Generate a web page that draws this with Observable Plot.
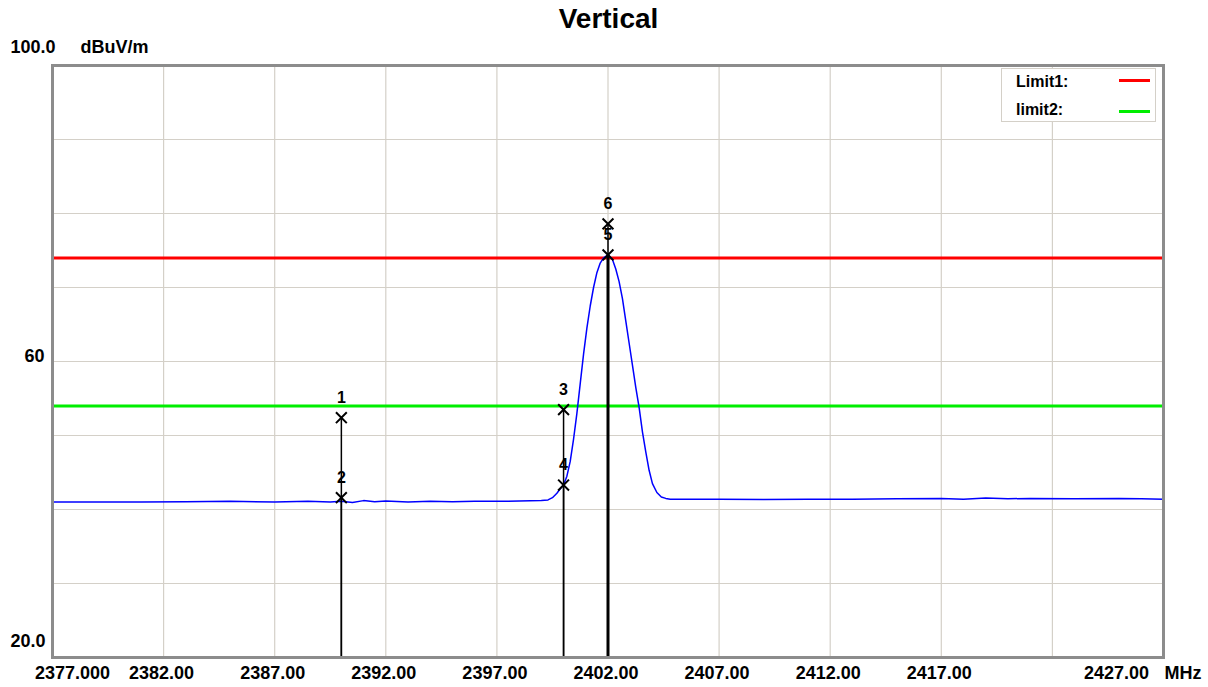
<!DOCTYPE html>
<html>
<head>
<meta charset="utf-8">
<script src="https://cdn.jsdelivr.net/npm/d3@7"></script>
<script src="https://cdn.jsdelivr.net/npm/@observablehq/plot@0.6"></script>
<style>
  html, body { margin: 0; padding: 0; background: #fff; }
  #wrap { position: relative; width: 1208px; height: 687px; font-family: "Liberation Sans", Arial, sans-serif; }
  #title { height: 38px; line-height: 37px; text-align: center; font-weight: bold; font-size: 28px; padding-left: 9px; overflow: hidden; }
  #legend { position: absolute; left: 1001px; top: 68px; width: 155px; height: 54px; border: 1px solid #d4d0c8; background: #fff; box-sizing: border-box; font-weight: bold; font-size: 16px; }
  .lrow { position: absolute; left: 14px; }
  .lline { position: absolute; left: 117px; width: 31px; height: 3px; }
</style>
</head>
<body>
<div id="wrap">
  <div id="title">Vertical</div>
  <div id="chart"></div>
  <div id="legend"></div>
</div>
<script>
// Spectrum trace (MHz, dBuV/m)
const freqs = [2377.0, 2379.0, 2381.0, 2383.0, 2385.0, 2387.0, 2388.5, 2389.5, 2390.0, 2390.5, 2391.0, 2391.5, 2392.0, 2393.0, 2394.0, 2395.0, 2396.0, 2397.0, 2398.0, 2399.0, 2399.3, 2399.5, 2399.7, 2399.85, 2400.0, 2400.15, 2400.3, 2400.45, 2400.6, 2400.75, 2400.9, 2401.05, 2401.2, 2401.35, 2401.5, 2401.65, 2401.8, 2401.95, 2402.05, 2402.2, 2402.35, 2402.5, 2402.65, 2402.8, 2402.95, 2403.1, 2403.25, 2403.4, 2403.55, 2403.7, 2403.85, 2404.0, 2404.2, 2404.4, 2404.6, 2404.8, 2405.5, 2407.0, 2409.0, 2411.0, 2413.0, 2415.0, 2417.0, 2418.0, 2419.0, 2420.0, 2421.0, 2423.0, 2425.0, 2426.0, 2427.0];
const levels = [41.0, 41.0, 41.0, 41.05, 41.1, 41.0, 41.1, 41.0, 41.1, 40.95, 41.2, 41.05, 41.15, 41.0, 41.1, 41.05, 41.1, 41.1, 41.15, 41.2, 41.3, 41.6, 42.2, 42.8, 43.3, 44.5, 46.5, 49.5, 53.0, 57.0, 61.0, 64.5, 67.5, 70.0, 72.0, 73.3, 74.0, 74.3, 74.3, 73.8, 72.5, 70.8, 68.5, 65.5, 62.5, 59.5, 56.5, 53.8, 50.5, 47.8, 45.3, 43.5, 42.3, 41.7, 41.5, 41.4, 41.4, 41.4, 41.35, 41.4, 41.4, 41.45, 41.5, 41.4, 41.55, 41.45, 41.5, 41.45, 41.5, 41.45, 41.4];

// Markers
const markerNo = [1, 2, 3, 4, 5, 6];
const markerFreq = [2390.0, 2390.0, 2400.0, 2400.0, 2402.0, 2402.0];
const markerLevel = [52.4, 41.6, 53.5, 43.3, 74.4, 78.6];

// Limits
const limitNames = ["Limit1:", "limit2:"];
const limitValues = [74, 54];

// Axes
const xDomain = [2377, 2427];
const yDomain = [20, 100];
const xGrid = [2382, 2387, 2392, 2397, 2402, 2407, 2412, 2417, 2422];
const yGrid = [30, 40, 50, 60, 70, 80, 90];
const xTickValues = [2377, 2382, 2387, 2392, 2397, 2402, 2407, 2412, 2417, 2427];
const xTickLabels = ["2377.000", "2382.00", "2387.00", "2392.00", "2397.00", "2402.00", "2407.00", "2412.00", "2417.00", "2427.00"];
const yTickValues = [60, 20];
const yTickLabels = ["60", "20.0"];
const yTopLabel = "100.0";
const yUnit = "dBuV/m";
const xUnit = "MHz";

const trace = freqs.map((f, i) => ({f, v: levels[i]}));
const markers = markerNo.map((n, i) => ({n, f: markerFreq[i], v: markerLevel[i]}));
const xt = xTickValues.map((v, i) => ({v, label: xTickLabels[i], i}));
const yt = yTickValues.map((v, i) => ({v, label: yTickLabels[i]}));
const limitColors = ["#ff0000", "#00ee00"];

const font = {fontFamily: "'Liberation Sans', Arial, sans-serif", fontWeight: "bold", fill: "#000"};

const chart = Plot.plot({
  width: 1208,
  height: 649,
  marginTop: 27,
  marginBottom: 30,
  marginLeft: 52,
  marginRight: 45,
  x: {domain: xDomain, axis: null},
  y: {domain: yDomain, axis: null},
  style: {background: "#fff", overflow: "visible"},
  marks: [
    Plot.ruleX(xGrid, {stroke: "#d4d0c8", strokeWidth: 1.2}),
    Plot.ruleY(yGrid, {stroke: "#d4d0c8", strokeWidth: 1.2}),
    Plot.ruleY([limitValues[0]], {stroke: limitColors[0], strokeWidth: 3}),
    Plot.ruleY([limitValues[1]], {stroke: limitColors[1], strokeWidth: 3}),
    Plot.line(trace, {x: "f", y: "v", stroke: "#0000ff", strokeWidth: 1.5}),
    Plot.ruleX(markers.filter(d => d.n !== 5), {x: "f", y1: "v", y2: yDomain[0], stroke: "#000", strokeWidth: 1.5}),
    Plot.ruleX(markers.filter(d => d.n === 5), {x: "f", y1: "v", y2: yDomain[0], stroke: "#000", strokeWidth: 3}),
    Plot.dot(markers, {x: "f", y: "v", symbol: "times", r: 5, stroke: "#000", strokeWidth: 2}),
    Plot.text(markers, {x: "f", y: "v", text: d => String(d.n), dy: -20, fontSize: 16, ...font}),
    Plot.frame({stroke: "#8c8c8c", strokeWidth: 3}),
    // x tick labels
    Plot.text(xt.filter(d => d.i > 0 && d.i < xt.length - 1), {x: "v", text: "label", frameAnchor: "bottom", dy: 16, dx: -2, lineAnchor: "middle", fontSize: 18, ...font}),
    Plot.text(xt.filter(d => d.i === 0), {x: "v", text: "label", frameAnchor: "bottom", dy: 16, dx: 20, lineAnchor: "middle", fontSize: 18, ...font}),
    Plot.text(xt.filter(d => d.i === xt.length - 1), {x: "v", text: "label", frameAnchor: "bottom", dy: 16, dx: -47, lineAnchor: "middle", fontSize: 18, ...font}),
    Plot.text([xUnit], {text: d => d, frameAnchor: "bottom-right", dx: 1, dy: 16, textAnchor: "start", lineAnchor: "middle", fontSize: 18, ...font}),
    // y tick labels
    Plot.text(yt.filter(d => d.v === 60), {y: "v", text: "label", frameAnchor: "left", dx: -8, dy: -5, textAnchor: "end", lineAnchor: "middle", fontSize: 18, ...font}),
    Plot.text(yt.filter(d => d.v === 20), {y: "v", text: "label", frameAnchor: "left", dx: -7, dy: -16, textAnchor: "end", lineAnchor: "middle", fontSize: 18, ...font}),
    Plot.text([yTopLabel], {text: d => d, frameAnchor: "top-left", dx: 3, dy: -18, textAnchor: "end", lineAnchor: "middle", fontSize: 18, ...font}),
    Plot.text([yUnit], {text: d => d, frameAnchor: "top-left", dx: 28, dy: -18, textAnchor: "start", lineAnchor: "middle", fontSize: 18, ...font})
  ]
});
document.getElementById("chart").appendChild(chart);

const legend = document.getElementById("legend");
limitNames.forEach((name, i) => {
  const t = document.createElement("div");
  t.className = "lrow";
  t.textContent = name;
  t.style.top = (i === 0 ? 4 : 32) + "px";
  legend.appendChild(t);
  const l = document.createElement("div");
  l.className = "lline";
  l.style.top = (i === 0 ? 10 : 41) + "px";
  l.style.background = limitColors[i];
  legend.appendChild(l);
});
</script>
</body>
</html>
